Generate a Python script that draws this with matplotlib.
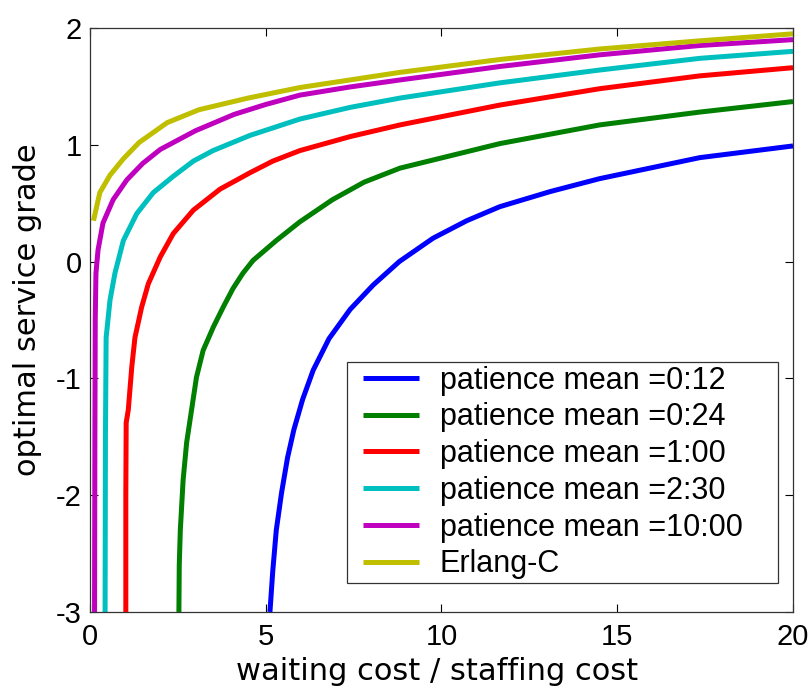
"""Optimal service grade versus cost ratio for several patience means."""

import matplotlib
matplotlib.use('Agg')
from matplotlib import pyplot as plt
from matplotlib.lines import Line2D
from matplotlib.legend_handler import HandlerLine2D

plt.rc('font', family=['Liberation Sans', 'DejaVu Sans'], size=21.0)
plt.rc('axes', unicode_minus=False)
plt.rc('xtick', labelsize=21.0)
plt.rc('ytick', labelsize=21.0)
plt.rc('legend', fontsize=22.0)
plt.rc('lines', linewidth=3.6)

# waiting cost / staffing cost  ->  optimal service grade
x_012 = [5.12, 5.2, 5.3, 5.45, 5.62, 5.8, 6.05, 6.35, 6.8, 7.4, 8.06, 8.8,
         9.76, 10.72, 11.66, 13.1, 14.5, 17.35, 20.0]
y_012 = [-3.0, -2.65, -2.3, -1.98, -1.68, -1.44, -1.18, -0.93, -0.66, -0.41,
         -0.20, 0.0, 0.20, 0.35, 0.47, 0.60, 0.71, 0.89, 0.99]

x_024 = [2.53, 2.54, 2.57, 2.65, 2.75, 2.89, 3.03, 3.22, 3.51, 3.79, 4.07,
         4.35, 4.64, 5.3, 5.97, 6.9, 7.8, 8.82, 11.66, 14.5, 17.35, 20.0]
y_024 = [-3.0, -2.6, -2.3, -1.87, -1.55, -1.27, -0.99, -0.76, -0.56, -0.39,
         -0.23, -0.10, 0.01, 0.18, 0.34, 0.53, 0.68, 0.80, 1.01, 1.17, 1.28,
         1.37]

x_100 = [1.02, 1.02, 1.03, 1.09, 1.19, 1.28, 1.47, 1.66, 2.0, 2.37, 2.94,
         3.7, 4.55, 5.2, 5.97, 7.4, 8.82, 11.66, 14.5, 17.35, 20.0]
y_100 = [-3.0, -2.0, -1.38, -1.27, -0.90, -0.65, -0.39, -0.19, 0.04, 0.24,
         0.44, 0.62, 0.76, 0.86, 0.95, 1.07, 1.17, 1.34, 1.48, 1.59, 1.66]

x_230 = [0.43, 0.44, 0.46, 0.57, 0.71, 0.95, 1.33, 1.8, 2.37, 2.94, 3.5,
         4.55, 5.97, 7.4, 8.82, 11.66, 14.5, 17.35, 20.0]
y_230 = [-3.0, -1.5, -0.65, -0.33, -0.10, 0.18, 0.41, 0.59, 0.73, 0.86,
         0.95, 1.08, 1.22, 1.32, 1.40, 1.53, 1.64, 1.74, 1.80]

x_1000 = [0.13, 0.14, 0.15, 0.17, 0.23, 0.37, 0.66, 1.05, 1.5, 2.0, 3.0,
          4.1, 5.0, 5.97, 7.4, 8.82, 11.66, 14.5, 17.35, 20.0]
y_1000 = [-3.0, -1.5, -0.5, -0.1, 0.1, 0.33, 0.53, 0.70, 0.84, 0.96, 1.12,
          1.26, 1.345, 1.425, 1.495, 1.555, 1.67, 1.77, 1.85, 1.90]

x_erlang = [0.1, 0.28, 0.57, 0.95, 1.4, 2.2, 3.1, 4.5, 5.97, 8.82, 11.66,
            14.5, 17.35, 20.0]
y_erlang = [0.35, 0.59, 0.74, 0.88, 1.02, 1.19, 1.30, 1.40, 1.49, 1.62,
            1.73, 1.82, 1.89, 1.95]

labels = ['patience mean =0:12', 'patience mean =0:24',
          'patience mean =1:00', 'patience mean =2:30',
          'patience mean =10:00', 'Erlang-C']
colors = ['#0000ff', '#007f00', '#ff0000', '#00bfbf', '#bf00bf', '#bfbf00']

curves = [(x_012, y_012), (x_024, y_024), (x_100, y_100),
          (x_230, y_230), (x_1000, y_1000), (x_erlang, y_erlang)]

fig = plt.figure(figsize=(8.12, 6.89), dpi=100)
ax = fig.add_axes([0.1108, 0.1118, 0.8658, 0.8476])

for (xs, ys), lab, col in zip(curves, labels, colors):
    ax.plot(xs, ys, color=col, label=lab, solid_capstyle='butt',
            solid_joinstyle='round')

ax.set_xlim(0, 20)
ax.set_ylim(-3, 2)
ax.set_xticks([0, 5, 10, 15, 20])
ax.set_yticks([-3, -2, -1, 0, 1, 2])
ax.tick_params(direction='in', top=True, right=True, length=6, width=0.8)
ax.tick_params(axis='x', pad=8)
ax.tick_params(axis='y', pad=6)
for sp in ax.spines.values():
    sp.set_linewidth(0.9)
    sp.set_color('#333333')

# axis titles are set in a wider face
label_font = dict(family='DejaVu Sans', size=22.0)
ax.set_xlabel('waiting cost / staffing cost', **label_font)
ax.set_ylabel('optimal service grade', **label_font)
ax.xaxis.set_label_coords(0.4936, -0.077)
ax.yaxis.set_label_coords(-0.068, 0.517)

leg = ax.legend(loc='lower left', bbox_to_anchor=(0.3656, 0.0497, 0.6131, 0.378),
                mode='expand', borderaxespad=0, fancybox=False, framealpha=1,
                edgecolor='#333333', handlelength=2.23, handletextpad=0.69,
                labelspacing=0.22, borderpad=0.12,
                handler_map={Line2D: HandlerLine2D(xpad=0.39)})
leg.get_frame().set_linewidth(0.9)

fig.savefig('out.png', dpi=100)
